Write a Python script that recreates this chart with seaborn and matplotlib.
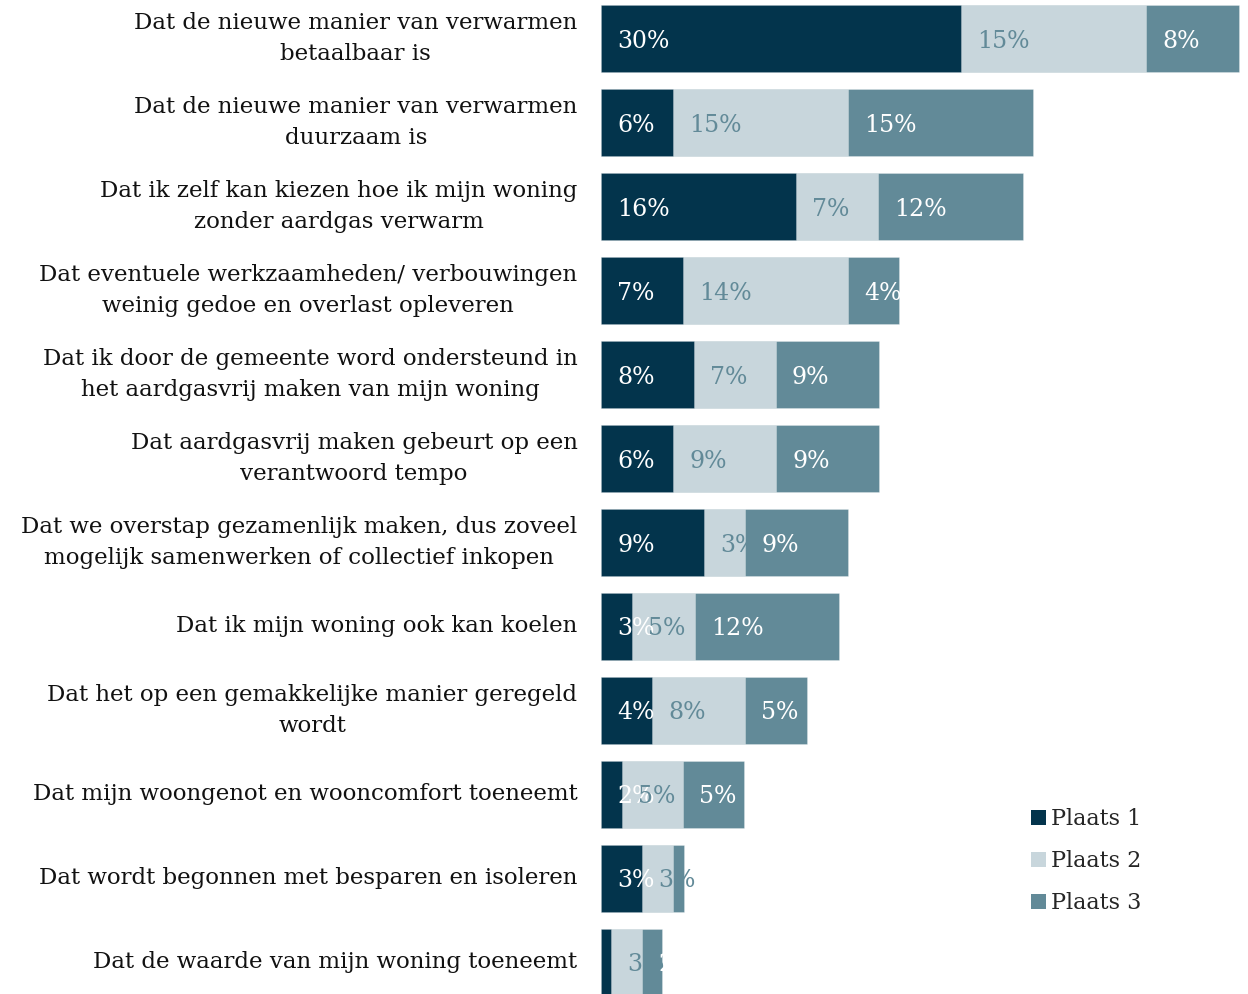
import matplotlib
matplotlib.use("Agg")
import matplotlib.pyplot as plt
from matplotlib.patches import Patch
import seaborn as sns
import numpy as np
import pandas as pd

categories = [
    "Dat de nieuwe manier van verwarmen\nbetaalbaar is",
    "Dat de nieuwe manier van verwarmen\nduurzaam is",
    "Dat ik zelf kan kiezen hoe ik mijn woning\nzonder aardgas verwarm",
    "Dat eventuele werkzaamheden/ verbouwingen\nweinig gedoe en overlast opleveren",
    "Dat ik door de gemeente word ondersteund in\nhet aardgasvrij maken van mijn woning",
    "Dat aardgasvrij maken gebeurt op een\nverantwoord tempo",
    "Dat we overstap gezamenlijk maken, dus zoveel\nmogelijk samenwerken of collectief inkopen",
    "Dat ik mijn woning ook kan koelen",
    "Dat het op een gemakkelijke manier geregeld\nwordt",
    "Dat mijn woongenot en wooncomfort toeneemt",
    "Dat wordt begonnen met besparen en isoleren",
    "Dat de waarde van mijn woning toeneemt",
]
plaats1 = [30.0, 6.0, 16.25, 6.8, 7.75, 6.0, 8.6, 2.6, 4.25, 1.75, 3.4, 0.8]
plaats2 = [15.4, 14.6, 6.8, 13.75, 6.8, 8.6, 3.4, 5.2, 7.75, 5.1, 2.6, 2.6]
plaats3 = [7.75, 15.4, 12.1, 4.3, 8.6, 8.6, 8.6, 12.0, 5.2, 5.1, 0.9, 1.7]
series_names = ["Plaats 1", "Plaats 2", "Plaats 3"]

colors = ["#03344c", "#c8d6dc", "#628a98"]
label_colors = ["white", "#628a98", "white"]

FONT = "DejaVu Serif"
sns.set_theme(style="white")
plt.rcParams["font.family"] = [FONT]

W, H = 1248, 994
fig = plt.figure(figsize=(W / 100, H / 100), dpi=100)
xmax = 53.25
px_per = 12.0
ax = fig.add_axes([601 / W, 1 - 996 / H, xmax * px_per / W, 991 / H])

df = pd.DataFrame({"cat": categories, "p1": plaats1, "p2": plaats2, "p3": plaats3})
df["c1"] = df["p1"]
df["c2"] = df["p1"] + df["p2"]
df["c3"] = df["c2"] + df["p3"]

for col, c in zip(["c3", "c2", "c1"], [colors[2], colors[1], colors[0]]):
    sns.barplot(data=df, x=col, y="cat", color=c, orient="h", ax=ax,
                width=0.8, edgecolor=(1, 1, 1, 0.35), linewidth=0.5, saturation=1)

# labels on top
starts = [np.zeros(len(df)), df["c1"].values, df["c2"].values]
vals = [df["p1"].values, df["p2"].values, df["p3"].values]
for s, v, lc in zip(starts, vals, label_colors):
    for i in range(len(df)):
        if v[i] >= 1:
            ax.text(s[i] + 1.35, i + 0.03, f"{int(round(v[i]))}%", color=lc,
                    va="center", ha="left", fontsize=17, family=FONT, zorder=5,
                    clip_on=False)

ax.set_xlim(0, xmax)
ax.set_ylim(11.4, -0.4)
ax.set_xlabel("")
ax.set_ylabel("")
ax.set_xticks([])
sns.despine(ax=ax, left=True, bottom=True)
ax.tick_params(axis="y", length=0, pad=17, labelsize=16.5, labelcolor="#111111")
for t in ax.get_yticklabels():
    t.set_multialignment("center")
    t.set_family(FONT)
    t.set_linespacing(1.5)
    t.set_verticalalignment("center")

handles = [Patch(facecolor=c, edgecolor="none") for c in colors]
fig.legend(handles, series_names, loc="upper left",
           bbox_to_anchor=(1020 / W, 1 - 797 / H), frameon=False,
           handlelength=0.65, handleheight=0.65,
           handletextpad=0.25, labelspacing=0.9, borderpad=0,
           prop={"family": FONT, "size": 16})

fig.savefig("out.png", dpi=100)
